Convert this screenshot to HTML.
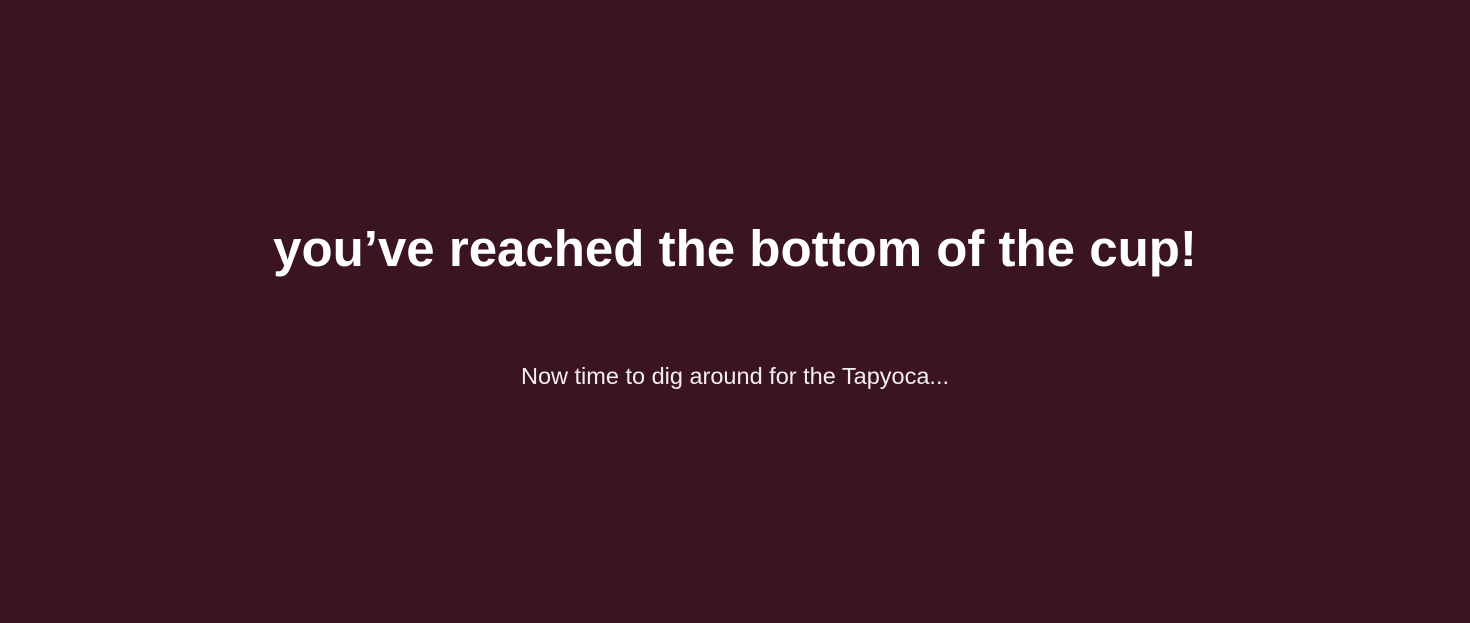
<!DOCTYPE html>
<html>
<head>
<meta charset="utf-8">
<style>
  html, body { margin:0; padding:0; }
  body {
    width:1470px; height:623px; overflow:hidden;
    background:#3a141f;
    font-family:"Liberation Sans", sans-serif;
    color:#fff;
    position:relative;
  }
  .title {
    position:absolute; left:0; width:1470px; top:217px;
    text-align:center; font-size:51px; font-weight:bold;
    line-height:64px; margin:0;
  }
  .sub {
    position:absolute; left:0; width:1470px; top:361px;
    text-align:center; font-size:23.5px; font-weight:normal;
    line-height:30px; margin:0; color:#f4eef0;
  }
</style>
</head>
<body>
  <h1 class="title">you’ve reached the bottom of the cup!</h1>
  <p class="sub">Now time to dig around for the Tapyoca...</p>
</body>
</html>
